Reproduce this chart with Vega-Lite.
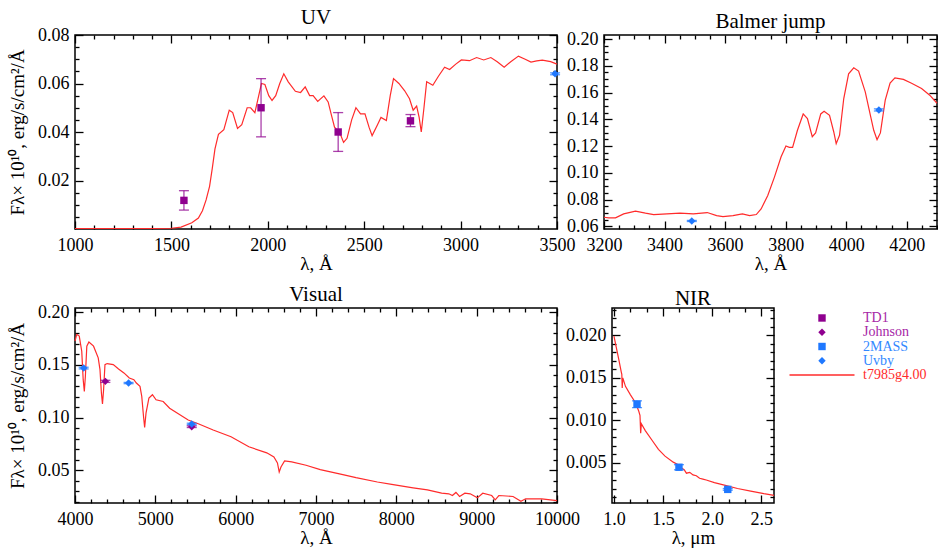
{
  "$schema": "https://vega.github.io/schema/vega-lite/v6.json",
  "background": "white",
  "padding": {"top": 6, "left": 7, "right": 0, "bottom": 0},
  "config": {
    "font": "Liberation Serif",
    "view": {"stroke": "black", "strokeWidth": 1.5},
    "axis": {"domain": false, "grid": false, "ticks": true, "tickColor": "#000000", "tickWidth": 1.3, "labelFont": "Liberation Serif", "labelFontSize": 18, "labelColor": "black", "titleFont": "Liberation Serif", "titleFontSize": 19, "titleFontWeight": "normal", "titleColor": "black", "labelFlush": false, "labelOverlap": false, "labelBound": false},
    "axisBottom": {"labelPadding": 7, "titlePadding": 0},
    "axisLeft": {"labelPadding": 6, "titlePadding": 10},
    "style": {"guide-label": {"font": "Liberation Serif"}, "guide-title": {"font": "Liberation Serif"}},
    "title": {"font": "Liberation Serif", "fontSize": 21, "fontWeight": "normal", "color": "black", "offset": -2}
  },
  "datasets": {
    "uv_model": [
      {"wl":1000,"f":0.0002},{"wl":1200,"f":0.0002},{"wl":1400,"f":0.0002},{"wl":1500,"f":0.0003},{"wl":1550,"f":0.0008},{"wl":1606,"f":0.0026},{"wl":1640,"f":0.0045},{"wl":1661,"f":0.0075},{"wl":1680,"f":0.012},{"wl":1698,"f":0.0176},{"wl":1712,"f":0.025},{"wl":1726,"f":0.033},{"wl":1744,"f":0.039},{"wl":1772,"f":0.041},{"wl":1800,"f":0.049},{"wl":1818,"f":0.048},{"wl":1843,"f":0.0415},{"wl":1865,"f":0.043},{"wl":1893,"f":0.05},{"wl":1911,"f":0.05},{"wl":1933,"f":0.048},{"wl":1950,"f":0.054},{"wl":1967,"f":0.06},{"wl":1985,"f":0.0596},{"wl":2005,"f":0.055},{"wl":2022,"f":0.053},{"wl":2041,"f":0.055},{"wl":2062,"f":0.06},{"wl":2083,"f":0.064},{"wl":2106,"f":0.0607},{"wl":2143,"f":0.0568},{"wl":2170,"f":0.0563},{"wl":2194,"f":0.0586},{"wl":2217,"f":0.055},{"wl":2235,"f":0.055},{"wl":2259,"f":0.0526},{"wl":2291,"f":0.0549},{"wl":2313,"f":0.0524},{"wl":2330,"f":0.047},{"wl":2346,"f":0.042},{"wl":2374,"f":0.0396},{"wl":2393,"f":0.0357},{"wl":2411,"f":0.0374},{"wl":2435,"f":0.045},{"wl":2457,"f":0.05},{"wl":2481,"f":0.0475},{"wl":2504,"f":0.0475},{"wl":2525,"f":0.042},{"wl":2541,"f":0.0385},{"wl":2569,"f":0.043},{"wl":2587,"f":0.046},{"wl":2615,"f":0.0447},{"wl":2635,"f":0.055},{"wl":2652,"f":0.062},{"wl":2680,"f":0.06},{"wl":2710,"f":0.057},{"wl":2735,"f":0.0537},{"wl":2754,"f":0.049},{"wl":2772,"f":0.0507},{"wl":2785,"f":0.046},{"wl":2796,"f":0.04},{"wl":2810,"f":0.05},{"wl":2824,"f":0.0607},{"wl":2856,"f":0.0593},{"wl":2885,"f":0.063},{"wl":2917,"f":0.0667},{"wl":2943,"f":0.0658},{"wl":2975,"f":0.068},{"wl":3004,"f":0.0697},{"wl":3046,"f":0.0694},{"wl":3083,"f":0.0707},{"wl":3120,"f":0.0697},{"wl":3157,"f":0.0707},{"wl":3190,"f":0.069},{"wl":3226,"f":0.0667},{"wl":3260,"f":0.069},{"wl":3300,"f":0.0713},{"wl":3335,"f":0.07},{"wl":3365,"f":0.0688},{"wl":3395,"f":0.0693},{"wl":3424,"f":0.0696},{"wl":3467,"f":0.069},{"wl":3500,"f":0.068}
    ],
    "balmer_model": [
      {"wl":3200,"f":0.0668},{"wl":3216,"f":0.0663},{"wl":3238,"f":0.0663},{"wl":3265,"f":0.0693},{"wl":3304,"f":0.0713},{"wl":3337,"f":0.0698},{"wl":3364,"f":0.0688},{"wl":3408,"f":0.0693},{"wl":3451,"f":0.0698},{"wl":3495,"f":0.0693},{"wl":3541,"f":0.0703},{"wl":3572,"f":0.068},{"wl":3593,"f":0.0673},{"wl":3626,"f":0.068},{"wl":3657,"f":0.0693},{"wl":3681,"f":0.068},{"wl":3703,"f":0.0688},{"wl":3719,"f":0.073},{"wl":3741,"f":0.083},{"wl":3763,"f":0.0968},{"wl":3785,"f":0.112},{"wl":3801,"f":0.12},{"wl":3812,"f":0.119},{"wl":3823,"f":0.119},{"wl":3839,"f":0.1318},{"wl":3858,"f":0.144},{"wl":3872,"f":0.1405},{"wl":3888,"f":0.127},{"wl":3899,"f":0.1298},{"wl":3916,"f":0.144},{"wl":3927,"f":0.146},{"wl":3945,"f":0.143},{"wl":3959,"f":0.1305},{"wl":3967,"f":0.1218},{"wl":3978,"f":0.128},{"wl":3992,"f":0.1555},{"wl":4008,"f":0.174},{"wl":4025,"f":0.1785},{"wl":4041,"f":0.176},{"wl":4063,"f":0.1605},{"wl":4080,"f":0.143},{"wl":4091,"f":0.1318},{"wl":4102,"f":0.1248},{"wl":4113,"f":0.1298},{"wl":4129,"f":0.1543},{"wl":4145,"f":0.167},{"wl":4161,"f":0.171},{"wl":4189,"f":0.1698},{"wl":4216,"f":0.167},{"wl":4249,"f":0.163},{"wl":4276,"f":0.158},{"wl":4300,"f":0.152}
    ],
    "vis_model": [
      {"wl":4000,"f":0.1726},{"wl":4022,"f":0.179},{"wl":4053,"f":0.1774},{"wl":4084,"f":0.163},{"wl":4102,"f":0.136},{"wl":4116,"f":0.1248},{"wl":4129,"f":0.139},{"wl":4147,"f":0.1678},{"wl":4173,"f":0.1717},{"wl":4231,"f":0.1678},{"wl":4289,"f":0.1567},{"wl":4311,"f":0.1455},{"wl":4329,"f":0.1232},{"wl":4342,"f":0.113},{"wl":4356,"f":0.1264},{"wl":4373,"f":0.1503},{"wl":4400,"f":0.1513},{"wl":4476,"f":0.1503},{"wl":4542,"f":0.1462},{"wl":4609,"f":0.1424},{"wl":4676,"f":0.1376},{"wl":4733,"f":0.136},{"wl":4764,"f":0.1328},{"wl":4809,"f":0.1296},{"wl":4831,"f":0.1201},{"wl":4853,"f":0.101},{"wl":4867,"f":0.0908},{"wl":4884,"f":0.1042},{"wl":4920,"f":0.1185},{"wl":4964,"f":0.1217},{"wl":5009,"f":0.1169},{"wl":5098,"f":0.1153},{"wl":5178,"f":0.1089},{"wl":5276,"f":0.1041},{"wl":5409,"f":0.0978},{"wl":5542,"f":0.094},{"wl":5720,"f":0.0882},{"wl":5942,"f":0.0818},{"wl":6164,"f":0.0723},{"wl":6387,"f":0.0666},{"wl":6476,"f":0.0627},{"wl":6520,"f":0.057},{"wl":6542,"f":0.0484},{"wl":6564,"f":0.0532},{"wl":6609,"f":0.0589},{"wl":6698,"f":0.058},{"wl":6876,"f":0.0548},{"wl":7053,"f":0.0506},{"wl":7320,"f":0.0462},{"wl":7498,"f":0.043},{"wl":7764,"f":0.0389},{"wl":7942,"f":0.0366},{"wl":8209,"f":0.0334},{"wl":8387,"f":0.0315},{"wl":8564,"f":0.0283},{"wl":8653,"f":0.0277},{"wl":8698,"f":0.0261},{"wl":8742,"f":0.029},{"wl":8787,"f":0.0252},{"wl":8853,"f":0.0283},{"wl":8920,"f":0.0277},{"wl":9009,"f":0.0239},{"wl":9076,"f":0.0283},{"wl":9187,"f":0.0261},{"wl":9231,"f":0.022},{"wl":9276,"f":0.0261},{"wl":9453,"f":0.0252},{"wl":9551,"f":0.0207},{"wl":9609,"f":0.023},{"wl":9809,"f":0.023},{"wl":10000,"f":0.0213}
    ],
    "nir_model": [
      {"wl":1.0,"f":0.0199},{"wl":1.023,"f":0.0186},{"wl":1.05,"f":0.0171},{"wl":1.074,"f":0.0157},{"wl":1.08,"f":0.0154},{"wl":1.084,"f":0.0138},{"wl":1.09,"f":0.015},{"wl":1.117,"f":0.014},{"wl":1.168,"f":0.013},{"wl":1.218,"f":0.0121},{"wl":1.252,"f":0.0111},{"wl":1.265,"f":0.0106},{"wl":1.272,"f":0.0085},{"wl":1.279,"f":0.0096},{"wl":1.319,"f":0.0088},{"wl":1.386,"f":0.0077},{"wl":1.453,"f":0.0066},{"wl":1.52,"f":0.0058},{"wl":1.604,"f":0.0051},{"wl":1.654,"f":0.0048},{"wl":1.688,"f":0.0044},{"wl":1.715,"f":0.0042},{"wl":1.738,"f":0.0038},{"wl":1.772,"f":0.0039},{"wl":1.805,"f":0.0036},{"wl":1.839,"f":0.0035},{"wl":1.872,"f":0.0032},{"wl":1.906,"f":0.0031},{"wl":1.94,"f":0.003},{"wl":2.023,"f":0.0027},{"wl":2.124,"f":0.0024},{"wl":2.258,"f":0.002},{"wl":2.393,"f":0.0017},{"wl":2.527,"f":0.0014},{"wl":2.63,"f":0.0012}
    ],
    "phot": [
      {"series":"TD1","wl":1565,"f":0.0118,"lo":0.0078,"hi":0.0158},
      {"series":"TD1","wl":1965,"f":0.05,"lo":0.038,"hi":0.062},
      {"series":"TD1","wl":2365,"f":0.04,"lo":0.032,"hi":0.048},
      {"series":"TD1","wl":2740,"f":0.0446,"lo":0.0422,"hi":0.0472},
      {"series":"Johnson","wl":4378,"f":0.1344,"lo":0.1334,"hi":0.1354},
      {"series":"Johnson","wl":5453,"f":0.0914,"lo":0.0906,"hi":0.0922},
      {"series":"Uvby","wl":3490,"f":0.064,"lo":0.0636,"hi":0.0644},
      {"series":"Uvby","wl":4108,"f":0.147,"lo":0.1462,"hi":0.1478},
      {"series":"Uvby","wl":4667,"f":0.1328,"lo":0.1322,"hi":0.1334},
      {"series":"Uvby","wl":5453,"f":0.094,"lo":0.0933,"hi":0.0947}
    ],
    "nir_phot": [
      {"series":"2MASS","wl":1.235,"f":0.0119,"lo":0.0115,"hi":0.0123},
      {"series":"2MASS","wl":1.662,"f":0.0045,"lo":0.0042,"hi":0.0048},
      {"series":"2MASS","wl":2.159,"f":0.0019,"lo":0.0018,"hi":0.002}
    ],
    "legend": [
      {"series":"TD1"},{"series":"Johnson"},{"series":"2MASS"},{"series":"Uvby"},{"series":"t7985g4.00"}
    ]
  },
  "spacing": 9,
  "vconcat": [
    {
      "bounds": "flush",
      "spacing": 47,
      "hconcat": [
        {
          "width": 482, "height": 194,
          "title": "UV",
          "resolve": {"axis": {"x": "independent", "y": "independent"}},
          "layer": [
            {
              "data": {"name": "uv_model"},
              "mark": {"type": "line", "color": "#ff2b2b", "strokeWidth": 1.2},
              "encoding": {
                "x": {"field": "wl", "type": "quantitative", "scale": {"domain": [1000, 3500], "nice": false},
                  "axis": {"orient": "bottom", "title": "λ, Å", "format": "d", "values": [1000,1500,2000,2500,3000,3500], "ticks": true, "tickSize": 8, "offset": -8}},
                "y": {"field": "f", "type": "quantitative", "scale": {"domain": [0, 0.08], "nice": false, "zero": false},
                  "axis": {"orient": "left", "title": "Fλ× 10¹⁰, erg/s/cm²/Å", "format": ".2f", "values": [0.02,0.04,0.06,0.08], "ticks": true, "tickSize": 8, "offset": -8}}
              }
            },
            {
              "data": {"name": "phot"},
              "transform": [{"filter": "datum.wl >= 1000 && datum.wl <= 3500"}],
              "mark": {"type": "rule", "strokeWidth": 1.3, "opacity": 0.75},
              "encoding": {
                "x": {"field": "wl", "type": "quantitative", "scale": {"domain": [1000, 3500], "nice": false},
                  "axis": {"orient": "top", "title": null, "labels": false, "values": [1000,1500,2000,2500,3000,3500], "ticks": true, "tickSize": 8, "offset": -8}},
                "y": {"field": "lo", "type": "quantitative", "scale": {"domain": [0, 0.08], "nice": false, "zero": false},
                  "axis": {"orient": "right", "title": null, "labels": false, "values": [0.02,0.04,0.06,0.08], "ticks": true, "tickSize": 8, "offset": -8}},
                "y2": {"field": "hi"},
                "color": {"field": "series", "type": "nominal", "scale": {"domain": ["TD1","Johnson","2MASS","Uvby","t7985g4.00"], "range": ["#8f008f","#8f008f","#1f78ff","#1f78ff","#ff2b2b"]}, "legend": null}
              }
            },
            {
              "data": {"name": "phot"},
              "transform": [{"filter": "datum.wl >= 1000 && datum.wl <= 3500"}],
              "mark": {"type": "tick", "orient": "horizontal", "size": 10, "thickness": 1.3, "opacity": 0.75},
              "encoding": {
                "x": {"field": "wl", "type": "quantitative", "axis": {"orient": "bottom", "title": null, "labels": false, "ticks": true, "tickSize": 4, "offset": -4, "values": [1100,1200,1300,1400,1600,1700,1800,1900,2100,2200,2300,2400,2600,2700,2800,2900,3100,3200,3300,3400]}},
                "y": {"field": "lo", "type": "quantitative", "axis": {"orient": "left", "title": null, "labels": false, "ticks": true, "tickSize": 4, "offset": -4, "values": [0.005,0.01,0.015,0.025,0.03,0.035,0.045,0.05,0.055,0.065,0.07,0.075]}},
                "color": {"field": "series", "type": "nominal", "legend": null}
              }
            },
            {
              "data": {"name": "phot"},
              "transform": [{"filter": "datum.wl >= 1000 && datum.wl <= 3500"}],
              "mark": {"type": "tick", "orient": "horizontal", "size": 10, "thickness": 1.3, "opacity": 0.75},
              "encoding": {
                "x": {"field": "wl", "type": "quantitative", "axis": {"orient": "top", "title": null, "labels": false, "ticks": true, "tickSize": 4, "offset": -4, "values": [1100,1200,1300,1400,1600,1700,1800,1900,2100,2200,2300,2400,2600,2700,2800,2900,3100,3200,3300,3400]}},
                "y": {"field": "hi", "type": "quantitative", "axis": {"orient": "right", "title": null, "labels": false, "ticks": true, "tickSize": 4, "offset": -4, "values": [0.005,0.01,0.015,0.025,0.03,0.035,0.045,0.05,0.055,0.065,0.07,0.075]}},
                "color": {"field": "series", "type": "nominal", "legend": null}
              }
            },
            {
              "data": {"name": "phot"},
              "transform": [{"filter": "datum.wl >= 1000 && datum.wl <= 3500"}],
              "mark": {"type": "point", "filled": true, "size": 55, "opacity": 1},
              "encoding": {
                "x": {"field": "wl", "type": "quantitative", "axis": null},
                "y": {"field": "f", "type": "quantitative", "axis": null},
                "color": {"field": "series", "type": "nominal", "legend": null},
                "shape": {"field": "series", "type": "nominal", "scale": {"domain": ["TD1","Johnson","2MASS","Uvby","t7985g4.00"], "range": ["square","diamond","square","diamond","stroke"]}, "legend": null}
              }
            }
          ]
        },
        {
          "width": 333, "height": 194,
          "title": "Balmer jump",
          "resolve": {"axis": {"x": "independent", "y": "independent"}},
          "layer": [
            {
              "data": {"name": "balmer_model"},
              "mark": {"type": "line", "color": "#ff2b2b", "strokeWidth": 1.2},
              "encoding": {
                "x": {"field": "wl", "type": "quantitative", "scale": {"domain": [3200, 4300], "nice": false, "zero": false},
                  "axis": {"orient": "bottom", "title": "λ, Å", "format": "d", "values": [3200,3400,3600,3800,4000,4200], "ticks": true, "tickSize": 8, "offset": -8}},
                "y": {"field": "f", "type": "quantitative", "scale": {"domain": [0.058, 0.203], "nice": false, "zero": false},
                  "axis": {"orient": "left", "title": null, "format": ".2f", "values": [0.06,0.08,0.1,0.12,0.14,0.16,0.18,0.2], "ticks": true, "tickSize": 8, "offset": -8}}
              }
            },
            {
              "data": {"name": "phot"},
              "transform": [{"filter": "datum.wl >= 3200 && datum.wl <= 4300"}],
              "mark": {"type": "rule", "strokeWidth": 1.3, "opacity": 0.75},
              "encoding": {
                "x": {"field": "wl", "type": "quantitative", "scale": {"domain": [3200, 4300], "nice": false, "zero": false},
                  "axis": {"orient": "top", "title": null, "labels": false, "values": [3200,3400,3600,3800,4000,4200], "ticks": true, "tickSize": 8, "offset": -8}},
                "y": {"field": "lo", "type": "quantitative", "scale": {"domain": [0.058, 0.203], "nice": false, "zero": false},
                  "axis": {"orient": "right", "title": null, "labels": false, "values": [0.06,0.08,0.1,0.12,0.14,0.16,0.18,0.2], "ticks": true, "tickSize": 8, "offset": -8}},
                "y2": {"field": "hi"},
                "color": {"field": "series", "type": "nominal", "legend": null}
              }
            },
            {
              "data": {"name": "phot"},
              "transform": [{"filter": "datum.wl >= 3200 && datum.wl <= 4300"}],
              "mark": {"type": "tick", "orient": "horizontal", "size": 10, "thickness": 1.3, "opacity": 0.75},
              "encoding": {
                "x": {"field": "wl", "type": "quantitative", "axis": {"orient": "bottom", "title": null, "labels": false, "ticks": true, "tickSize": 4, "offset": -4, "values": [3250,3300,3350,3450,3500,3550,3650,3700,3750,3850,3900,3950,4050,4100,4150,4250,4300]}},
                "y": {"field": "lo", "type": "quantitative", "axis": {"orient": "left", "title": null, "labels": false, "ticks": true, "tickSize": 4, "offset": -4, "values": [0.065,0.07,0.075,0.085,0.09,0.095,0.105,0.11,0.115,0.125,0.13,0.135,0.145,0.15,0.155,0.165,0.17,0.175,0.185,0.19,0.195]}},
                "color": {"field": "series", "type": "nominal", "legend": null}
              }
            },
            {
              "data": {"name": "phot"},
              "transform": [{"filter": "datum.wl >= 3200 && datum.wl <= 4300"}],
              "mark": {"type": "tick", "orient": "horizontal", "size": 10, "thickness": 1.3, "opacity": 0.75},
              "encoding": {
                "x": {"field": "wl", "type": "quantitative", "axis": {"orient": "top", "title": null, "labels": false, "ticks": true, "tickSize": 4, "offset": -4, "values": [3250,3300,3350,3450,3500,3550,3650,3700,3750,3850,3900,3950,4050,4100,4150,4250,4300]}},
                "y": {"field": "hi", "type": "quantitative", "axis": {"orient": "right", "title": null, "labels": false, "ticks": true, "tickSize": 4, "offset": -4, "values": [0.065,0.07,0.075,0.085,0.09,0.095,0.105,0.11,0.115,0.125,0.13,0.135,0.145,0.15,0.155,0.165,0.17,0.175,0.185,0.19,0.195]}},
                "color": {"field": "series", "type": "nominal", "legend": null}
              }
            },
            {
              "data": {"name": "phot"},
              "transform": [{"filter": "datum.wl >= 3200 && datum.wl <= 4300"}],
              "mark": {"type": "point", "filled": true, "size": 55, "opacity": 1},
              "encoding": {
                "x": {"field": "wl", "type": "quantitative", "axis": null},
                "y": {"field": "f", "type": "quantitative", "axis": null},
                "color": {"field": "series", "type": "nominal", "legend": null},
                "shape": {"field": "series", "type": "nominal", "legend": null}
              }
            }
          ]
        }
      ]
    },
    {
      "bounds": "flush",
      "spacing": 55,
      "hconcat": [
        {
          "width": 482, "height": 195,
          "title": "Visual",
          "resolve": {"axis": {"x": "independent", "y": "independent"}},
          "layer": [
            {
              "data": {"name": "vis_model"},
              "mark": {"type": "line", "color": "#ff2b2b", "strokeWidth": 1.2},
              "encoding": {
                "x": {"field": "wl", "type": "quantitative", "scale": {"domain": [4000, 10000], "nice": false, "zero": false},
                  "axis": {"orient": "bottom", "title": "λ, Å", "format": "d", "values": [4000,5000,6000,7000,8000,9000,10000], "ticks": true, "tickSize": 8, "offset": -8}},
                "y": {"field": "f", "type": "quantitative", "scale": {"domain": [0.019, 0.204], "nice": false, "zero": false},
                  "axis": {"orient": "left", "title": "Fλ× 10¹⁰, erg/s/cm²/Å", "format": ".2f", "values": [0.05,0.1,0.15,0.2], "ticks": true, "tickSize": 8, "offset": -8}}
              }
            },
            {
              "data": {"name": "phot"},
              "transform": [{"filter": "datum.wl >= 4000 && datum.wl <= 10000"}],
              "mark": {"type": "rule", "strokeWidth": 1.3, "opacity": 0.75},
              "encoding": {
                "x": {"field": "wl", "type": "quantitative", "scale": {"domain": [4000, 10000], "nice": false, "zero": false},
                  "axis": {"orient": "top", "title": null, "labels": false, "values": [4000,5000,6000,7000,8000,9000,10000], "ticks": true, "tickSize": 8, "offset": -8}},
                "y": {"field": "lo", "type": "quantitative", "scale": {"domain": [0.019, 0.204], "nice": false, "zero": false},
                  "axis": {"orient": "right", "title": null, "labels": false, "values": [0.05,0.1,0.15,0.2], "ticks": true, "tickSize": 8, "offset": -8}},
                "y2": {"field": "hi"},
                "color": {"field": "series", "type": "nominal", "legend": null}
              }
            },
            {
              "data": {"name": "phot"},
              "transform": [{"filter": "datum.wl >= 4000 && datum.wl <= 10000"}],
              "mark": {"type": "tick", "orient": "horizontal", "size": 10, "thickness": 1.3, "opacity": 0.75},
              "encoding": {
                "x": {"field": "wl", "type": "quantitative", "axis": {"orient": "bottom", "title": null, "labels": false, "ticks": true, "tickSize": 4, "offset": -4, "values": [4200,4400,4600,4800,5200,5400,5600,5800,6200,6400,6600,6800,7200,7400,7600,7800,8200,8400,8600,8800,9200,9400,9600,9800]}},
                "y": {"field": "lo", "type": "quantitative", "axis": {"orient": "left", "title": null, "labels": false, "ticks": true, "tickSize": 4, "offset": -4, "values": [0.02,0.03,0.04,0.06,0.07,0.08,0.09,0.11,0.12,0.13,0.14,0.16,0.17,0.18,0.19]}},
                "color": {"field": "series", "type": "nominal", "legend": null}
              }
            },
            {
              "data": {"name": "phot"},
              "transform": [{"filter": "datum.wl >= 4000 && datum.wl <= 10000"}],
              "mark": {"type": "tick", "orient": "horizontal", "size": 10, "thickness": 1.3, "opacity": 0.75},
              "encoding": {
                "x": {"field": "wl", "type": "quantitative", "axis": {"orient": "top", "title": null, "labels": false, "ticks": true, "tickSize": 4, "offset": -4, "values": [4200,4400,4600,4800,5200,5400,5600,5800,6200,6400,6600,6800,7200,7400,7600,7800,8200,8400,8600,8800,9200,9400,9600,9800]}},
                "y": {"field": "hi", "type": "quantitative", "axis": {"orient": "right", "title": null, "labels": false, "ticks": true, "tickSize": 4, "offset": -4, "values": [0.02,0.03,0.04,0.06,0.07,0.08,0.09,0.11,0.12,0.13,0.14,0.16,0.17,0.18,0.19]}},
                "color": {"field": "series", "type": "nominal", "legend": null}
              }
            },
            {
              "data": {"name": "phot"},
              "transform": [{"filter": "datum.wl >= 4000 && datum.wl <= 10000"}],
              "mark": {"type": "point", "filled": true, "size": 55, "opacity": 1},
              "encoding": {
                "x": {"field": "wl", "type": "quantitative", "axis": null},
                "y": {"field": "f", "type": "quantitative", "axis": null},
                "color": {"field": "series", "type": "nominal", "legend": null},
                "shape": {"field": "series", "type": "nominal", "legend": null}
              }
            }
          ]
        },
        {
          "bounds": "flush",
          "spacing": 15,
          "hconcat": [
            {
              "width": 162, "height": 195,
              "title": "NIR",
              "resolve": {"axis": {"x": "independent", "y": "independent"}},
              "layer": [
                {
                  "data": {"name": "nir_model"},
                  "mark": {"type": "line", "color": "#ff2b2b", "strokeWidth": 1.2},
                  "encoding": {
                    "x": {"field": "wl", "type": "quantitative", "scale": {"domain": [0.98, 2.63], "nice": false, "zero": false},
                      "axis": {"orient": "bottom", "title": "λ, μm", "format": ".1f", "values": [1.0,1.5,2.0,2.5], "ticks": true, "tickSize": 8, "offset": -8}},
                    "y": {"field": "f", "type": "quantitative", "scale": {"domain": [0.0003, 0.0232], "nice": false, "zero": false},
                      "axis": {"orient": "left", "title": null, "format": ".3f", "values": [0.005,0.01,0.015,0.02], "ticks": true, "tickSize": 8, "offset": -8}}
                  }
                },
                {
                  "data": {"name": "nir_phot"},
                  "mark": {"type": "rule", "strokeWidth": 1.3, "opacity": 0.75},
                  "encoding": {
                    "x": {"field": "wl", "type": "quantitative", "scale": {"domain": [0.98, 2.63], "nice": false, "zero": false},
                      "axis": {"orient": "top", "title": null, "labels": false, "values": [1.0,1.5,2.0,2.5], "ticks": true, "tickSize": 8, "offset": -8}},
                    "y": {"field": "lo", "type": "quantitative", "scale": {"domain": [0.0003, 0.0232], "nice": false, "zero": false},
                      "axis": {"orient": "right", "title": null, "labels": false, "values": [0.005,0.01,0.015,0.02], "ticks": true, "tickSize": 8, "offset": -8}},
                    "y2": {"field": "hi"},
                    "color": {"field": "series", "type": "nominal", "legend": null}
                  }
                },
                {
                  "data": {"name": "nir_phot"},
                  "mark": {"type": "tick", "orient": "horizontal", "size": 10, "thickness": 1.3, "opacity": 0.75},
                  "encoding": {
                    "x": {"field": "wl", "type": "quantitative", "axis": {"orient": "bottom", "title": null, "labels": false, "ticks": true, "tickSize": 4, "offset": -4, "values": [1.1667,1.3333,1.6667,1.8333,2.1667,2.3333]}},
                    "y": {"field": "lo", "type": "quantitative", "axis": {"orient": "left", "title": null, "labels": false, "ticks": true, "tickSize": 4, "offset": -4, "values": [0.001,0.002,0.003,0.004,0.006,0.007,0.008,0.009,0.011,0.012,0.013,0.014,0.016,0.017,0.018,0.019,0.021,0.022,0.023]}},
                    "color": {"field": "series", "type": "nominal", "legend": null}
                  }
                },
                {
                  "data": {"name": "nir_phot"},
                  "mark": {"type": "tick", "orient": "horizontal", "size": 10, "thickness": 1.3, "opacity": 0.75},
                  "encoding": {
                    "x": {"field": "wl", "type": "quantitative", "axis": {"orient": "top", "title": null, "labels": false, "ticks": true, "tickSize": 4, "offset": -4, "values": [1.1667,1.3333,1.6667,1.8333,2.1667,2.3333]}},
                    "y": {"field": "hi", "type": "quantitative", "axis": {"orient": "right", "title": null, "labels": false, "ticks": true, "tickSize": 4, "offset": -4, "values": [0.001,0.002,0.003,0.004,0.006,0.007,0.008,0.009,0.011,0.012,0.013,0.014,0.016,0.017,0.018,0.019,0.021,0.022,0.023]}},
                    "color": {"field": "series", "type": "nominal", "legend": null}
                  }
                },
                {
                  "data": {"name": "nir_phot"},
                  "mark": {"type": "point", "filled": true, "size": 55, "opacity": 1},
                  "encoding": {
                    "x": {"field": "wl", "type": "quantitative", "axis": null},
                    "y": {"field": "f", "type": "quantitative", "axis": null},
                    "color": {"field": "series", "type": "nominal", "legend": null},
                    "shape": {"field": "series", "type": "nominal", "legend": null}
                  }
                }
              ]
            },
            {
              "width": 66, "height": 77,
              "view": {"stroke": null},
              "data": {"name": "legend"},
              "layer": [
                {
                  "transform": [{"filter": "datum.series !== 't7985g4.00'"}],
                  "mark": {"type": "point", "filled": true, "size": 55, "opacity": 1},
                  "encoding": {
                    "y": {"field": "series", "type": "nominal", "scale": {"type": "point", "domain": ["TD1","Johnson","2MASS","Uvby","t7985g4.00"], "padding": 0.7}, "axis": null},
                    "color": {"field": "series", "type": "nominal", "legend": null},
                    "shape": {"field": "series", "type": "nominal", "legend": null}
                  }
                },
                {
                  "transform": [{"filter": "datum.series === 't7985g4.00'"}],
                  "mark": {"type": "point", "shape": "stroke", "filled": false, "size": 4225, "strokeWidth": 1.5, "opacity": 1},
                  "encoding": {
                    "y": {"field": "series", "type": "nominal", "axis": null},
                    "color": {"field": "series", "type": "nominal", "legend": null}
                  }
                },
                {
                  "mark": {"type": "text", "align": "left", "baseline": "middle", "dx": 41, "fontSize": 14, "font": "Liberation Serif"},
                  "encoding": {
                    "y": {"field": "series", "type": "nominal", "axis": null},
                    "text": {"field": "series"},
                    "fill": {"field": "series", "type": "nominal", "scale": {"domain": ["TD1","Johnson","2MASS","Uvby","t7985g4.00"], "range": ["#a626a6","#a626a6","#3388ff","#3388ff","#ff2b2b"]}, "legend": null}
                  }
                }
              ]
            }
          ]
        }
      ]
    }
  ]
}
